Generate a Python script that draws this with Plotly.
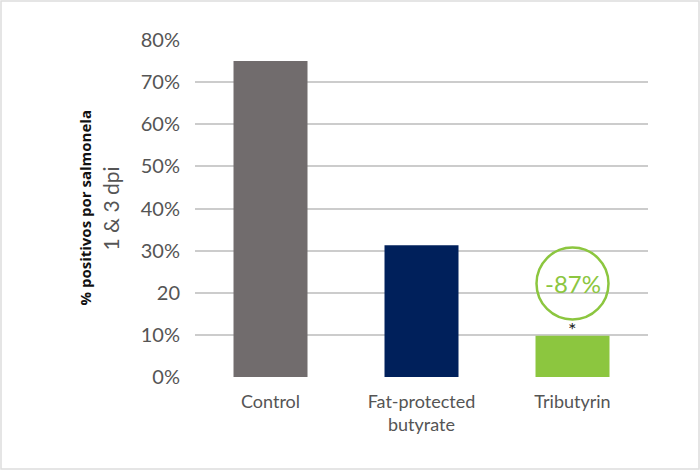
import plotly.graph_objects as go

categories = ["Control", "Fat-protected<br>butyrate", "Tributyrin"]
values = [75.0, 31.3, 9.8]
colors = ["#716c6d", "#00205b", "#8cc63f"]
tick_vals = [0, 10, 20, 30, 40, 50, 60, 70, 80]
tick_text = ["0%", "10%", "20", "30%", "40%", "50%", "60%", "70%", "80%"]
reduction_label = "-87%"

W, H = 700, 470
L, R, T, B = 195, 52, 40, 93
pw, ph = W - L - R, H - T - B

fig = go.Figure(go.Bar(x=[0, 1, 2], y=values, marker=dict(color=colors, line=dict(width=0)),
                       width=0.49, hoverinfo="skip"))

fig.update_layout(
    width=W, height=H, margin=dict(l=L, r=R, t=T, b=B),
    paper_bgcolor="white", plot_bgcolor="white", showlegend=False,
    font=dict(family="Lato, sans-serif", color="#555555"),
    xaxis=dict(tickmode="array", tickvals=[0, 1, 2], ticktext=categories, range=[-0.5, 2.5],
               showgrid=False, zeroline=False, showline=False, ticks="", ticklabelstandoff=12,
               tickfont=dict(size=18, color="#555555", family="Lato, sans-serif")),
    yaxis=dict(range=[0, 80], tickmode="array", tickvals=tick_vals, ticktext=tick_text,
               showgrid=True, gridcolor="#cccccc", gridwidth=2, zeroline=False, showline=False,
               ticks="", ticklabelstandoff=14,
               tickfont=dict(size=20, color="#555555", family="Lato, sans-serif")),
)

# circle with reduction label
cx, cy = 2.0, 22.2
rx, ry = 36 / (pw / 3), 36 / (ph / 80)
fig.add_shape(type="circle", xref="x", yref="y", x0=cx - rx, x1=cx + rx, y0=cy - ry, y1=cy + ry,
              line=dict(color="#8cc63f", width=2.5), fillcolor="rgba(0,0,0,0)")
fig.add_annotation(x=cx, y=cy, xref="x", yref="y", text=reduction_label, showarrow=False,
                   font=dict(size=24, color="#8cc63f", family="Lato, sans-serif"))
fig.add_annotation(x=2, y=values[2], xref="x", yref="y", text="*", showarrow=False, yshift=7,
                   font=dict(size=20, color="#222222"))

# y-axis titles
fig.add_annotation(x=-(L - 84) / pw, y=0.5, xref="paper", yref="paper", xanchor="center", yanchor="middle",
                   text="<b>% positivos por salmonela</b>",
                   textangle=-90, showarrow=False, font=dict(size=15, color="#111111", family="Open Sans, sans-serif"))
fig.add_annotation(x=-(L - 110) / pw, y=0.5, xref="paper", yref="paper", xanchor="center", yanchor="middle",
                   text="1 &amp; 3 dpi",
                   textangle=-90, showarrow=False, font=dict(size=21, color="#555555", family="Lato, sans-serif"))

# outer frame
fig.add_shape(type="rect", xref="paper", yref="paper",
              x0=-(L - 1) / pw, x1=1 + (R - 1) / pw, y0=-(B - 1) / ph, y1=1 + (T - 1) / ph,
              line=dict(color="#dddddd", width=1.5), layer="below")

fig.write_html("out.html", config={"displayModeBar": False},
               post_script="document.body.style.margin='0';")
